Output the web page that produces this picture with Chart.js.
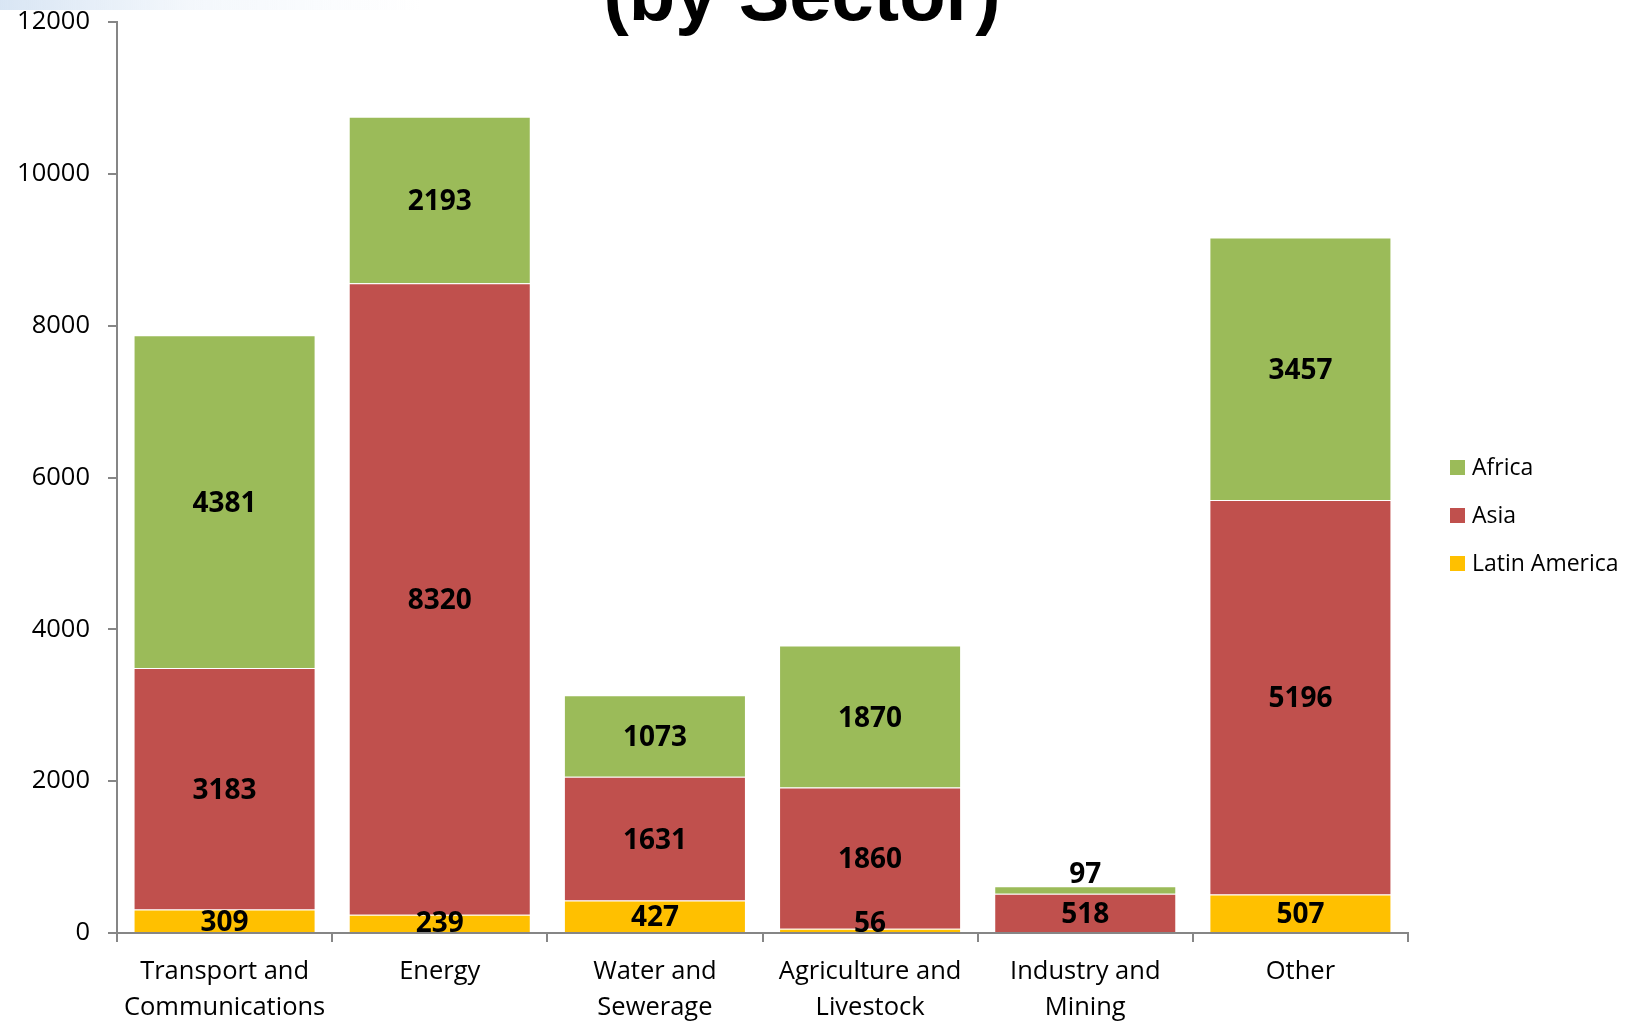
<!DOCTYPE html>
<html>
<head>
<meta charset="utf-8">
<script src="https://cdn.jsdelivr.net/npm/chart.js@4.4.1/dist/chart.umd.min.js"></script>
<style>
  html, body { margin: 0; padding: 0; background: #fff; overflow: hidden; }
  #wrap { position: relative; width: 1632px; height: 1021px; }
  #band { position: absolute; left: 0; top: 0; width: 420px; height: 10px;
    background: linear-gradient(to right, rgba(210,225,242,0.85), rgba(232,240,249,0.5) 45%, rgba(255,255,255,0) 100%); }
</style>
</head>
<body>
<div id="wrap">
  <div id="band"></div>
  <canvas id="sectorChart" width="1632" height="1021"></canvas>
</div>
<script>
// data
const sectors = [
  ["Transport and", "Communications"],
  "Energy",
  ["Water and", "Sewerage"],
  ["Agriculture and", "Livestock"],
  ["Industry and", "Mining"],
  "Other",
];
const latinAmerica = [309, 239, 427, 56, null, 507];
const asia = [3183, 8320, 1631, 1860, 518, 5196];
const africa = [4381, 2193, 1073, 1870, 97, 3457];
const yTicks = [0, 2000, 4000, 6000, 8000, 10000, 12000];

const axisGray = "#868686";

// Draws the values in the middle of each segment
const segmentLabels = {
  id: "segmentLabels",
  afterDatasetsDraw(chart) {
    const ctx = chart.ctx;
    const bottom = chart.chartArea.bottom;
    const lastIndex = chart.data.datasets.length - 1;
    ctx.save();
    ctx.font = "bold 28px 'Open Sans'";
    ctx.fillStyle = "#000";
    ctx.textAlign = "center";
    ctx.textBaseline = "alphabetic";
    const capHalf = 10;
    chart.data.datasets.forEach((ds, di) => {
      const meta = chart.getDatasetMeta(di);
      meta.data.forEach((bar, i) => {
        const v = ds.data[i];
        if (v === null || v === undefined) return;
        const { x, y, base } = bar.getProps(["x", "y", "base"], true);
        const h = Math.abs(base - y);
        let cy = (y + base) / 2;
        if (h < 2 * capHalf && di === lastIndex) {
          // too thin: put it on top of the bar
          ctx.fillText(v, x, y - 3);
          return;
        }
        if (cy + capHalf > bottom - 1) cy = bottom - 1 - capHalf;
        ctx.fillText(v, x, cy + capHalf);
      });
    });
    ctx.restore();
  },
};

// Title (first line is outside the picture) and legend on the right
const titleAndLegend = {
  id: "titleAndLegend",
  afterDraw(chart) {
    const ctx = chart.ctx;
    ctx.save();
    ctx.fillStyle = "#000";
    ctx.font = "bold 76px 'Liberation Sans'";
    ctx.textAlign = "center";
    ctx.textBaseline = "alphabetic";
    ctx.fillText("(by Sector)", 802, 20);

    ctx.font = "23px 'Open Sans'";
    ctx.textAlign = "left";
    ctx.textBaseline = "middle";
    const items = chart.data.datasets.slice().reverse();
    items.forEach((ds, i) => {
      const cy = 467.5 + i * 48;
      ctx.fillStyle = ds.backgroundColor;
      ctx.fillRect(1450, cy - 7.5, 15, 15);
      ctx.fillStyle = "#000";
      ctx.fillText(ds.label, 1472, cy + 1);
    });
    ctx.restore();
  },
};

const ctx = document.getElementById("sectorChart").getContext("2d");

new Chart(ctx, {
  type: "bar",
  data: {
    labels: sectors,
    datasets: [
      {
        label: "Latin America",
        data: latinAmerica,
        backgroundColor: "#FFC000",
        borderColor: "rgba(255,255,255,0.45)",
        borderWidth: 1,
      },
      {
        label: "Asia",
        data: asia,
        backgroundColor: "#C0504D",
        borderColor: "rgba(255,255,255,0.45)",
        borderWidth: 1,
      },
      {
        label: "Africa",
        data: africa,
        backgroundColor: "#9BBB59",
        borderColor: "rgba(255,255,255,0.45)",
        borderWidth: 1,
      },
    ],
  },
  options: {
    responsive: false,
    animation: false,
    devicePixelRatio: 1,
    layout: {
      padding: { left: 0, right: 224, top: 22, bottom: 0 },
    },
    datasets: {
      bar: { categoryPercentage: 1, barPercentage: 0.846 },
    },
    scales: {
      x: {
        stacked: true,
        grid: {
          offset: true,
          drawOnChartArea: false,
          drawTicks: true,
          tickLength: 9,
          color: axisGray,
          lineWidth: 2,
        },
        border: { display: true, color: axisGray, width: 2 },
        ticks: {
          color: "#000",
          padding: 12,
          maxRotation: 0,
          autoSkip: false,
          font: { family: "'Open Sans'", size: 25.5, lineHeight: 1.4 },
        },
        afterFit(scale) {
          scale.height = 88;
        },
      },
      y: {
        stacked: true,
        min: 0,
        max: 12000,
        afterBuildTicks(scale) {
          scale.ticks = yTicks.map((v) => ({ value: v }));
        },
        grid: {
          drawOnChartArea: false,
          drawTicks: true,
          tickLength: 9,
          color: axisGray,
          lineWidth: 2,
        },
        border: { display: true, color: axisGray, width: 2 },
        ticks: {
          color: "#000",
          padding: 18,
          font: { family: "'Open Sans'", size: 25.5 },
          callback: (v) => String(v),
        },
        afterFit(scale) {
          scale.width = 117;
          scale.paddingTop = 0;
          scale.paddingBottom = 0;
        },
      },
    },
    plugins: {
      legend: { display: false },
      title: { display: false },
      tooltip: { enabled: false },
    },
  },
  plugins: [segmentLabels, titleAndLegend],
});
</script>
</body>
</html>
